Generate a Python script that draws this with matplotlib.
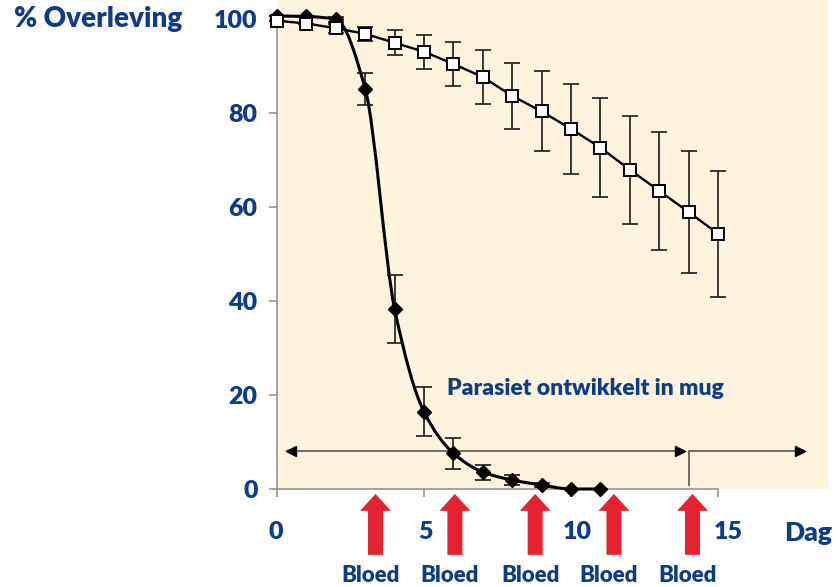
import numpy as np
import matplotlib
matplotlib.use('Agg')
import matplotlib.pyplot as plt
import matplotlib.transforms as mtransforms
from matplotlib.path import Path
from matplotlib.patches import PathPatch, FancyArrow

# ---------------- data ----------------
days_ctrl = list(range(16))
surv_ctrl = [99.6, 99.0, 98.0, 96.8, 94.9, 93.0, 90.4, 87.6, 83.6, 80.3,
             76.6, 72.6, 67.9, 63.4, 58.9, 54.3]
err_ctrl = [0.0, 0.0, 1.0, 1.5, 2.7, 3.6, 4.7, 5.7, 7.0, 8.5,
            9.5, 10.6, 11.5, 12.6, 13.0, 13.4]

days_inf = list(range(12))
surv_inf = [100.6, 100.5, 99.9, 85.1, 38.3, 16.4, 7.6, 3.6, 1.9, 0.85, 0.0, 0.0]
err_inf = [0.0, 0.0, 0.5, 3.4, 7.2, 5.2, 3.3, 1.6, 1.0, 0.5, 0.0, 0.0]

xticks = [0, 5, 10, 15]
yticks = [0, 20, 40, 60, 80, 100]
feed_days = [3.35, 6.05, 8.78, 11.46, 14.13]
feed_label = 'Bloed'
ylabel = '% Overleving'
xlabel = 'Dag'
dev_label = 'Parasiet ontwikkelt in mug'
dev_left, dev_split, dev_right, dev_level = 0.3, 14.0, 17.96, 8.1

# ---------------- style ----------------
BLUE = '#0E3C85'
RED = '#E42230'
CREAM = '#FEF3DD'
SPINE = '#8C8C8C'
FONT = ['Lato', 'DejaVu Sans']
W = 'heavy'
plt.rcParams['font.family'] = FONT
plt.rcParams['font.weight'] = W

fig = plt.figure(figsize=(8.38, 5.87), dpi=100)
ax = fig.add_axes([277 / 838, 98 / 587, (828 - 277) / 838, 489 / 587])
ax.set_xlim(0, 18.74)
ax.set_ylim(0, 104.0)
ax.set_facecolor(CREAM)

for s in ['top', 'right']:
    ax.spines[s].set_visible(False)
for s in ['left', 'bottom']:
    ax.spines[s].set_color(SPINE)
    ax.spines[s].set_linewidth(1.1)
ax.spines['left'].set_bounds(0, 100)
ax.spines['bottom'].set_bounds(0, 15)

ax.set_xticks(xticks)
ax.set_xticklabels([str(t) for t in xticks])
ax.set_yticks(yticks)
ax.set_yticklabels([str(t) for t in yticks])
ax.tick_params(axis='x', direction='out', length=6, width=1.1, color=SPINE,
               pad=17, labelsize=18, labelcolor=BLUE)
ax.tick_params(axis='y', direction='out', length=6, width=1.1, color=SPINE,
               pad=8, labelsize=18, labelcolor=BLUE)
for lab in ax.get_xticklabels() + ax.get_yticklabels():
    lab.set_fontweight(W)
# small horizontal shifts of the x tick labels as in the original artwork
shifts_px = [-1.5, 1.5, 6, 10]
for lab, sh in zip(ax.get_xticklabels(), shifts_px):
    lab.set_transform(lab.get_transform() +
                      mtransforms.ScaledTranslation(sh / 100, 0, fig.dpi_scale_trans))

# ---------------- infected series (smooth monotone curve) ----------------
x = np.asarray(days_inf, float)
y = np.asarray(surv_inf, float)
d = np.diff(y) / np.diff(x)
m = np.zeros_like(y)
m[0], m[-1] = d[0], d[-1]
for i in range(1, len(y) - 1):
    if d[i - 1] * d[i] <= 0:
        m[i] = 0.0
    else:
        m[i] = 2.0 / (1.0 / d[i - 1] + 1.0 / d[i])
verts = [(x[0], y[0])]
codes = [Path.MOVETO]
for i in range(len(x) - 1):
    h = x[i + 1] - x[i]
    verts += [(x[i] + h / 3, y[i] + m[i] * h / 3),
              (x[i + 1] - h / 3, y[i + 1] - m[i + 1] * h / 3),
              (x[i + 1], y[i + 1])]
    codes += [Path.CURVE4] * 3
ax.add_patch(PathPatch(Path(verts, codes), fill=False, edgecolor='black',
                       lw=2.2, zorder=3, clip_on=False))
ax.errorbar(days_inf, surv_inf, yerr=err_inf, fmt='none', ecolor='#1a1a1a',
            elinewidth=1.2, capsize=5.5, capthick=1.2, zorder=3, clip_on=False)
ax.plot(days_inf, surv_inf, ls='none', marker='D', ms=7.4, color='black',
        zorder=4, clip_on=False)

# ---------------- control series ----------------
ax.errorbar(days_ctrl, surv_ctrl, yerr=err_ctrl, fmt='none', ecolor='#1a1a1a',
            elinewidth=1.2, capsize=5.5, capthick=1.2, zorder=5, clip_on=False)
ax.plot(days_ctrl, surv_ctrl, color='black', lw=1.7, marker='s', ms=9.2,
        mfc='white', mec='black', mew=1.4, zorder=6, clip_on=False)

# ---------------- development arrows ----------------
LINE = '#6E6E64'
ax.plot([dev_left, dev_split - 0.12], [dev_level, dev_level], color=LINE,
        lw=1.4, zorder=2, solid_capstyle='butt')
ax.plot([dev_split, dev_split, dev_right], [0.6, dev_level, dev_level],
        color=LINE, lw=1.4, zorder=2, solid_capstyle='butt')
hd = 0.17
ax.plot([dev_left + hd], [dev_level], marker='<', ms=7.2, color='black',
        ls='none', zorder=2)
ax.plot([dev_split - 0.12 - hd], [dev_level], marker='>', ms=7.2,
        color='black', ls='none', zorder=2)
ax.plot([dev_right - hd], [dev_level], marker='>', ms=7.2, color='black',
        ls='none', zorder=2)
ax.text(5.78, 20.0, dev_label, color=BLUE, fontsize=16.5, fontweight=W,
        ha='left', va='baseline', zorder=7)

# ---------------- blood-meal arrows ----------------
for fd in feed_days:
    ax.add_patch(FancyArrow(fd, -14.0, 0, 12.95, width=0.51, head_width=1.05,
                            head_length=3.6, length_includes_head=True,
                            color=RED, lw=0, clip_on=False, zorder=1))
    ax.text(fd - 0.17, -19.7, feed_label, color=BLUE, fontsize=16,
            fontweight=W, ha='center', va='baseline', clip_on=False)

# ---------------- axis titles ----------------
ax.text(18.06, -11.06, xlabel, color=BLUE, fontsize=19, fontweight=W,
        ha='center', va='baseline', clip_on=False)
fig.text(14 / 838, (587 - 27) / 587, ylabel, color=BLUE, fontsize=20,
         fontweight=W, ha='left', va='baseline')

fig.savefig('out.png', dpi=100)
